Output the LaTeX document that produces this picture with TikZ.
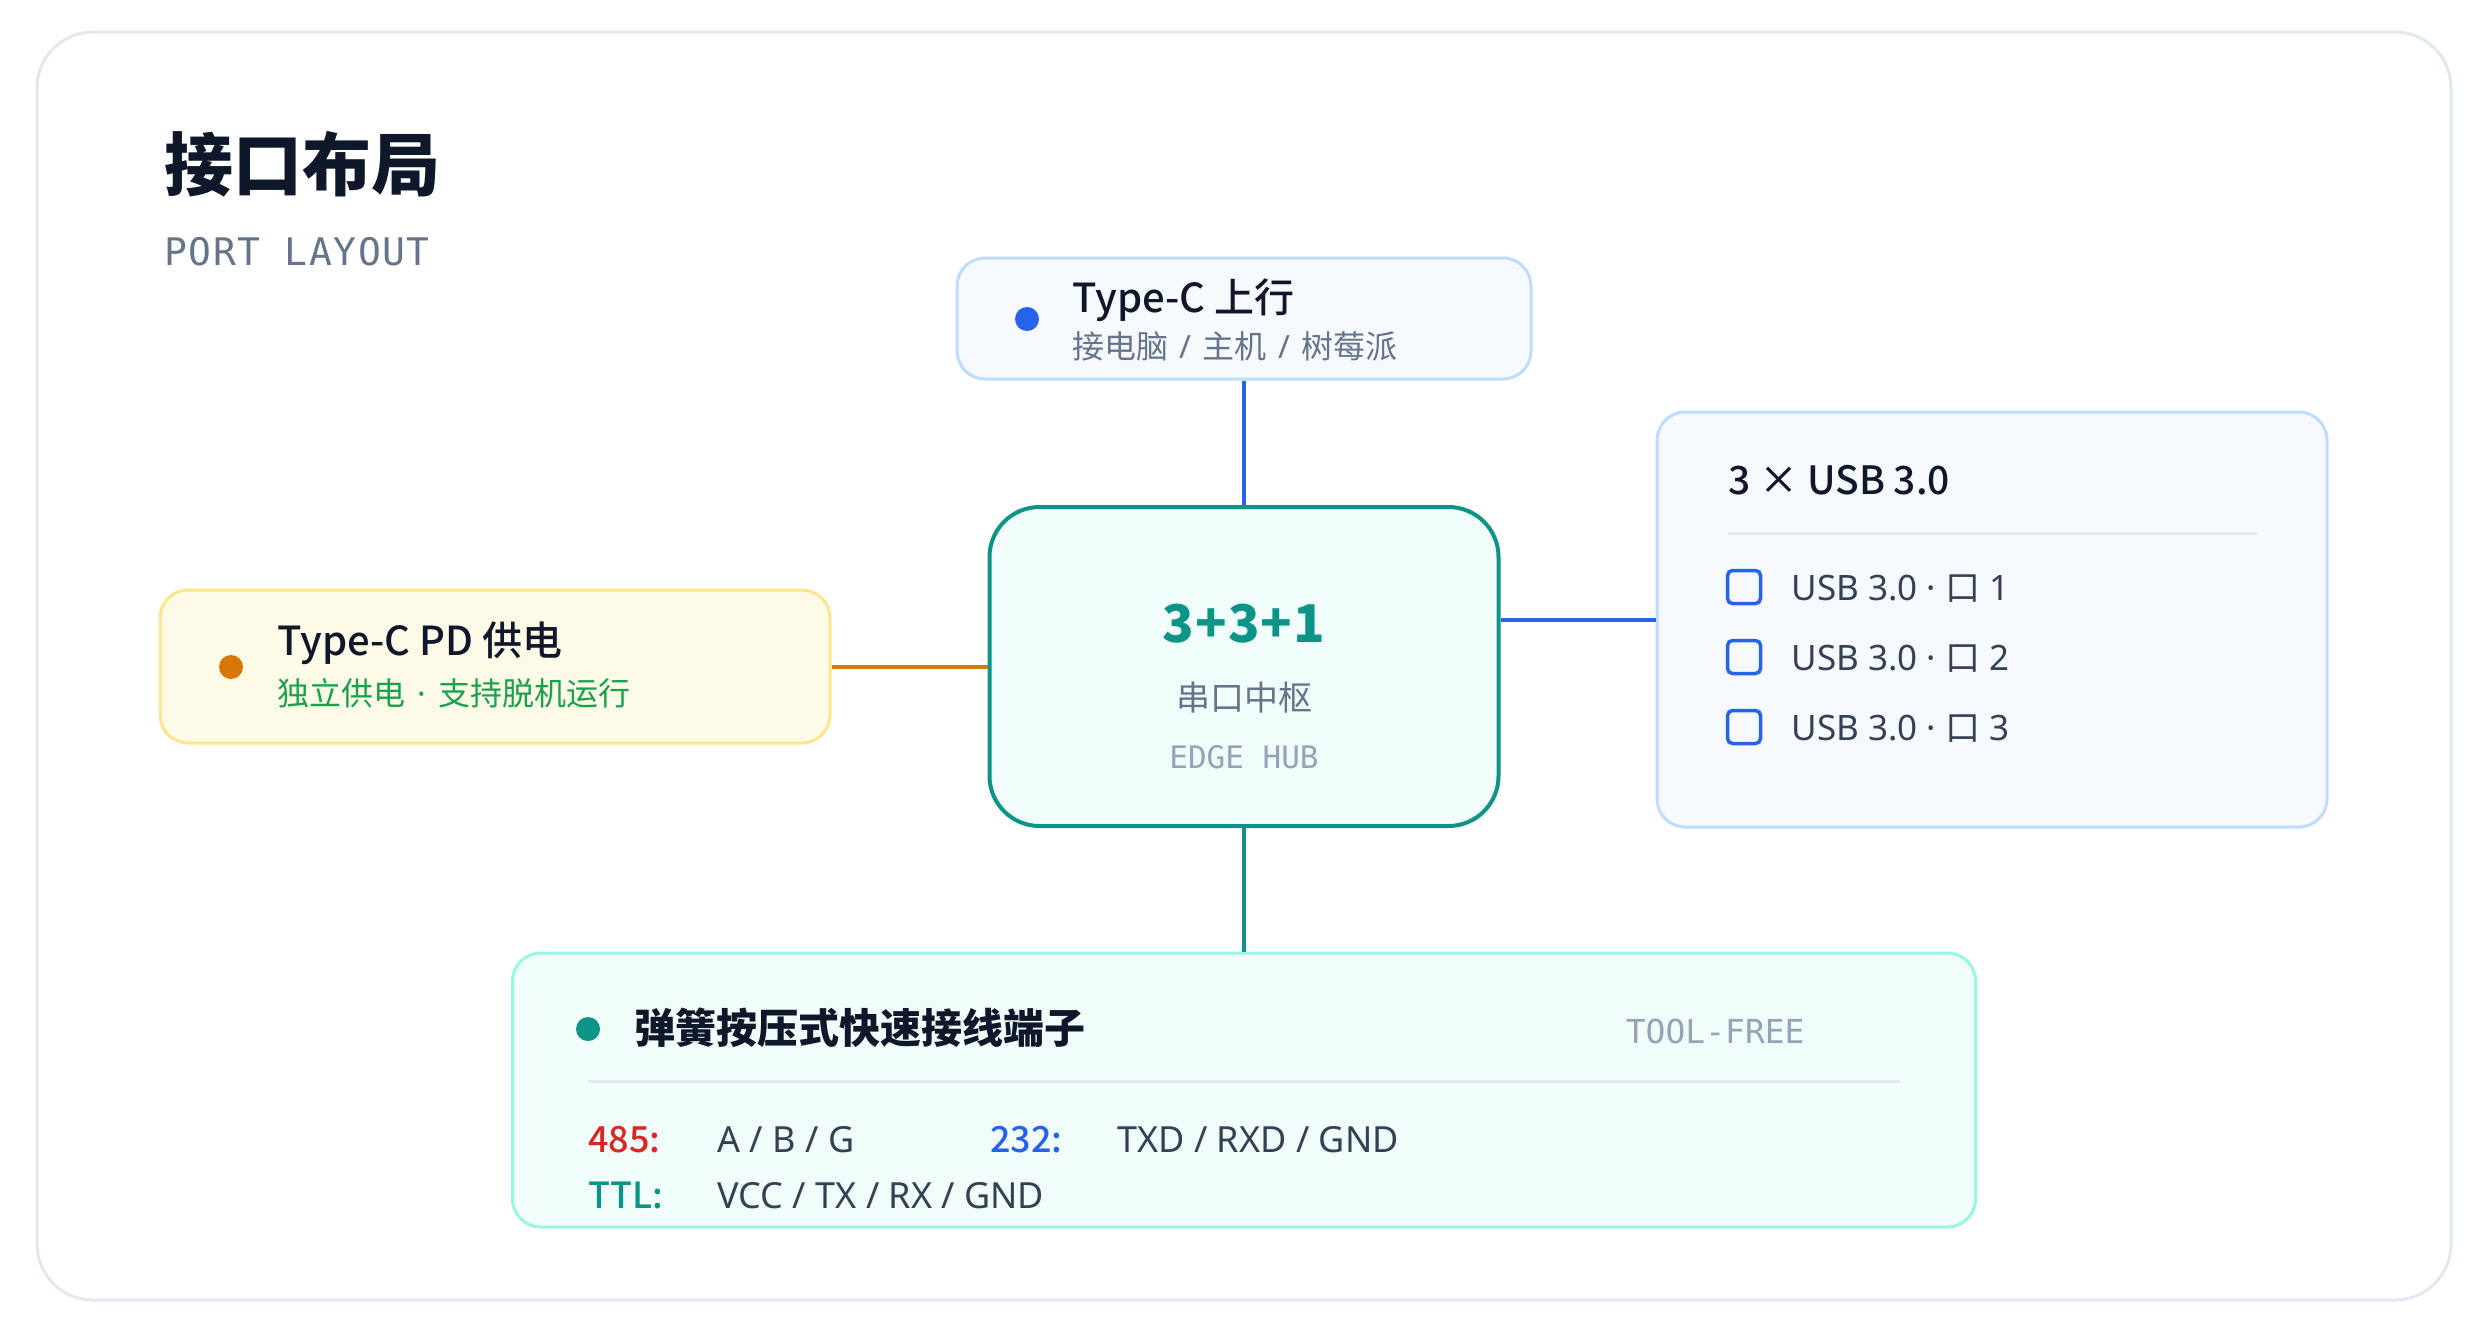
\documentclass[tikz,border=0pt]{standalone}
\usepackage{fontspec}
\setmainfont{Noto Sans}
\setmonofont{DejaVu Sans Mono}
\newfontfamily\cjk{Noto Sans CJK SC}
\newfontfamily\cjkmed{Noto Sans CJK SC Medium}
\usepackage{tikz}
\usetikzlibrary{shapes,positioning}

\definecolor{ink}{HTML}{0F172A}
\definecolor{slate}{HTML}{64748B}
\definecolor{mute}{HTML}{94A3B8}
\definecolor{body}{HTML}{334155}
\definecolor{rule}{HTML}{E2E8F0}
\definecolor{upblue}{HTML}{2563EB}
\definecolor{upline}{HTML}{BFDBFE}
\definecolor{upfill}{HTML}{F6FAFF}
\definecolor{pdorange}{HTML}{D97706}
\definecolor{pdline}{HTML}{FDE68A}
\definecolor{pdfill}{HTML}{FEFAE8}
\definecolor{pdgreen}{HTML}{16A34A}
\definecolor{hubteal}{HTML}{0D9488}
\definecolor{hubfill}{HTML}{F0FDFA}
\definecolor{termline}{HTML}{99F6E4}
\definecolor{redline}{HTML}{DC2626}

\newcommand{\fsize}[1]{\fontsize{#1}{#1}\selectfont}
\newcommand{\sepsl}{\hspace{1.5pt} / \hspace{1.5pt}}

\begin{document}
\begin{tikzpicture}[x=0.5pt,y=-0.5pt]
\tikzstyle{box}=[draw, rounded corners=14pt, line width=1.5pt, inner sep=0pt];
\tikzstyle{wire}=[line width=2pt];
\tikzstyle{txt}=[inner sep=0pt, anchor=base west];
\tikzstyle{mid}=[inner sep=0pt, anchor=base];
\tikzstyle{dot}=[circle, inner sep=0pt, minimum size=12pt];
\tikzstyle{tick}=[draw=upblue, line width=1.75pt, rounded corners=2.5pt, minimum size=16.5pt, inner sep=0pt];
\useasboundingbox (0,0) rectangle (2492,1328);
\draw[rule, line width=1.5pt, rounded corners=28pt] (37,32) rectangle (2451,1300);
% heading
\node[txt, ink] (ttl) at (164,190) {\fsize{34.5pt}\cjk\bfseries 接口布局};
\node[txt, slate] (ttlen) at (164,265) {\fsize{19pt}\ttfamily\addfontfeature{LetterSpace=4}PORT LAYOUT};
% boxes
\node[box, draw=upline, fill=upfill, minimum width=287pt, minimum height=60.5pt] (up) at (1244,318.5) {};
\node[box, draw=hubteal, fill=hubfill, line width=2pt, rounded corners=25pt, minimum width=254.5pt, minimum height=159.5pt] (hub) at (1244,666.5) {};
\node[box, draw=pdline, fill=pdfill, minimum width=335pt, minimum height=76.5pt] (pd) at (495,666.5) {};
\node[box, draw=upline, fill=upfill, minimum width=335pt, minimum height=207.5pt] (usb) at (1992,619.5) {};
\node[box, draw=termline, fill=hubfill, minimum width=731.5pt, minimum height=137pt] (term) at (1244,1090) {};
\draw[wire, upblue] (up) -- (hub);
\draw[wire, pdorange] (pd) -- (hub);
\draw[wire, upblue] (usb.west) -- (usb.west -| hub.east);
\draw[wire, hubteal] (hub) -- (term);
% upstream
\node[dot, fill=upblue] (updot) at (1027,319) {};
\node[txt, ink] (uptitle) at (1072,312) {\fsize{20pt}\cjkmed Type-C 上行};
\node[txt, slate] (upsub) at (1072,358) {\fsize{16pt}{\cjk 接电脑}\sepsl{\cjk 主机}\sepsl{\cjk 树莓派}};
% power
\node[dot, fill=pdorange] (pddot) at (231,667) {};
\node[txt, ink] (pdtitle) at (277,655) {\fsize{20pt}\cjkmed Type-C PD 供电};
\node[txt, pdgreen] (pdsub) at (277,705) {\fsize{16pt}{\cjk 独立供电}\hspace{2pt} · \hspace{2pt}{\cjk 支持脱机运行}};
% hub
\node[mid, hubteal] (hubnum) at (1244,642) {\fsize{26pt}\cjk\bfseries\addfontfeature{LetterSpace=2}3+3+1};
\node[mid, slate] (hubcn) at (1244,710) {\fsize{17pt}\cjk 串口中枢};
\node[mid, mute] (huben) at (1244,768) {\fsize{15.5pt}\ttfamily EDGE HUB};
% usb ports
\node[txt, ink] (usbtitle) at (1728,494) {\fsize{19.5pt}\cjkmed 3 × USB 3.0};
\draw[rule, line width=1.5pt] (1728,533) -- (2257,533);
\foreach \i/\y in {1/587, 2/657, 3/727} {
  \node[tick] (port\i) at (1744,\y) {};
  \node[txt, body] (portname\i) at (1791,\y+13) {\fsize{17.5pt}USB 3.0 · {\cjk 口} \i};
}
% terminals
\node[dot, fill=hubteal] (termdot) at (588,1029) {};
\node[txt, ink] (termtitle) at (634,1043) {\fsize{20.5pt}\cjk\bfseries 弹簧按压式快速接线端子};
\node[inner sep=0pt, anchor=base east, mute] (toolfree) at (1805,1043) {\fsize{16.5pt}\ttfamily TOOL-FREE};
\draw[rule, line width=1.5pt] (588,1081) -- (1900,1081);
\node[txt, redline] (k485) at (588,1152) {\fsize{18pt}\cjkmed 485:};
\node[txt, body] (v485) at (717,1152) {\fsize{18pt}A / B / G};
\node[txt, upblue] (k232) at (990,1152) {\fsize{18pt}\cjkmed 232:};
\node[txt, body] (v232) at (1117,1152) {\fsize{18pt}TXD / RXD / GND};
\node[txt, hubteal] (kttl) at (588,1208) {\fsize{18pt}\cjkmed TTL:};
\node[txt, body] (vttl) at (717,1208) {\fsize{18pt}VCC / TX / RX / GND};
\end{tikzpicture}
\end{document}
